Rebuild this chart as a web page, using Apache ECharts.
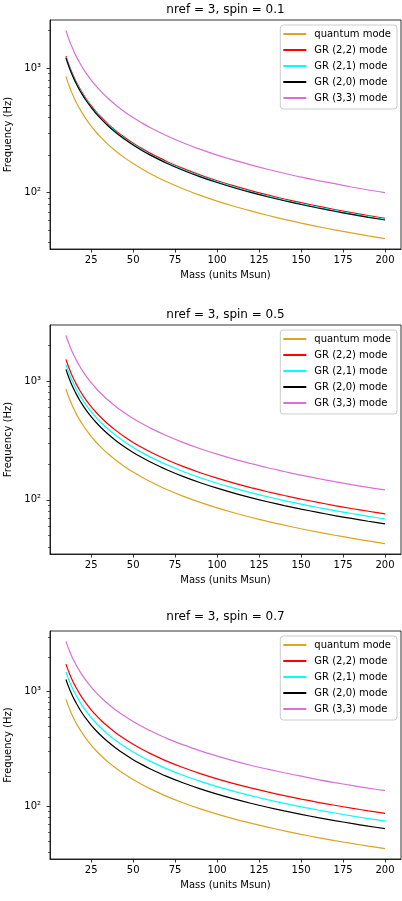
<!DOCTYPE html>
<html>
<head>
<meta charset="utf-8">
<script src="https://cdn.jsdelivr.net/npm/echarts@6/dist/echarts.min.js"></script>
<style>
html,body{margin:0;padding:0;background:#fff;}
#chart{width:402px;height:901px;}
</style>
</head>
<body>
<div id="chart"></div>
<script>
// ---- data ----
const masses = [10,11,12,13,14,15,16,18,20,22,25,28,31,35,40,45,50,55,60,70,80,90,100,110,120,130,140,150,160,170,180,190,200];

const panelTitles = ['nref = 3, spin = 0.1', 'nref = 3, spin = 0.5', 'nref = 3, spin = 0.7'];
const seriesNames = ['quantum mode', 'GR (2,2) mode', 'GR (2,1) mode', 'GR (2,0) mode', 'GR (3,3) mode'];

const quantumMode = [855,777,712,658,611,570,534,475,428,389,342,305,276,244,214,190,171,155.5,142.5,122.1,106.9,95.0,85.5,77.7,71.3,65.8,61.1,57.0,53.4,50.3,47.5,45.0,42.8];

// spin = 0.1
const s01_gr22 = [1245,1132,1038,958,889,830,778,692,623,566,498,445,402,356,311,277,249,226.4,207.5,177.9,155.6,138.3,124.5,113.2,103.8,95.8,88.9,83.0,77.8,73.2,69.2,65.5,62.3];
const s01_gr21 = [1220,1109,1017,938,871,813,763,678,610,555,488,436,394,349,305,271,244,221.8,203.3,174.3,152.5,135.6,122,110.9,101.7,93.8,87.1,81.3,76.3,71.8,67.8,64.2,61.0];
const s01_gr20 = [1205,1095,1004,927,861,803,753,669,603,548,482,430,389,344,301,268,241,219.1,200.8,172.1,150.6,133.9,120.5,109.5,100.4,92.7,86.1,80.3,75.3,70.9,66.9,63.4,60.3];
const s01_gr33 = [2000,1818,1667,1538,1429,1333,1250,1111,1000,909,800,714,645,571,500,444,400,364,333,286,250,222,200,182,167,154,143,133,125,118,111,105,100];

// spin = 0.5
const s05_gr22 = [1520,1382,1267,1169,1086,1013,950,844,760,691,608,543,490,434,380,338,304,276.4,253.3,217.1,190,168.9,152,138.2,126.7,116.9,108.6,101.3,95.0,89.4,84.4,80.0,76.0];
const s05_gr21 = [1378,1253,1148,1060,984,919,861,766,689,626,551,492,445,394,345,306,276,250.5,229.7,196.9,172.3,153.1,137.8,125.3,114.8,106.0,98.4,91.9,86.1,81.1,76.6,72.5,68.9];
const s05_gr20 = [1252,1138,1043,963,894,835,783,696,626,569,501,447,404,358,313,278,250,227.6,208.7,178.9,156.5,139.1,125.2,113.8,104.3,96.3,89.4,83.5,78.3,73.6,69.6,65.9,62.6];
const s05_gr33 = [2420,2200,2017,1862,1729,1613,1513,1344,1210,1100,968,864,781,691,605,538,484,440,403,346,303,269,242,220,202,186,173,161,151,142,134,127,121];

// spin = 0.7
const s07_gr22 = [1735,1577,1446,1335,1239,1157,1084,964,868,789,694,620,560,496,434,386,347,315.5,289.2,247.9,216.9,192.8,173.5,157.7,144.6,133.5,123.9,115.7,108.4,102.1,96.4,91.3,86.8];
const s07_gr21 = [1485,1350,1238,1142,1061,990,928,825,743,675,594,530,479,424,371,330,297,270,247.5,212.1,185.6,165,148.5,135,123.8,114.2,106.1,99.0,92.8,87.4,82.5,78.2,74.3];
const s07_gr20 = [1276,1160,1063,982,911,851,798,709,638,580,510,456,412,365,319,284,255,232,212.7,182.3,159.5,141.8,127.6,116,106.3,98.2,91.1,85.1,79.8,75.1,70.9,67.2,63.8];
const s07_gr33 = [2740,2491,2283,2108,1957,1827,1713,1522,1370,1245,1096,979,884,783,685,609,548,498,457,391,343,304,274,249,228,211,196,183,171,161,152,144,137];

const xTicks = [25,50,75,100,125,150,175,200];
const yMajorTicks = [100,1000];
const yMinorTicks = [40,50,60,70,80,90,200,300,400,500,600,700,800,900,2000,3000];
const yRanges = [[35.3,2424],[34.95,2960],[34.73,3374]];
const xRange = [0.5,209.5];

const panelData = [
  [quantumMode, s01_gr22, s01_gr21, s01_gr20, s01_gr33],
  [quantumMode, s05_gr22, s05_gr21, s05_gr20, s05_gr33],
  [quantumMode, s07_gr22, s07_gr21, s07_gr20, s07_gr33]
];

// ---- styling ----
const colors = ['#DAA520', '#FF0000', '#00FFFF', '#000000', '#DA70D6'];
const FONT = 'DejaVu Sans';
const gridTops = [20, 325, 631];
const gridHeights = [229, 229, 228];
const titleTops = [4, 309, 611];
const GL = 50, GW = 351;

const option = {
  animation: false,
  backgroundColor: '#fff',
  textStyle: { fontFamily: FONT },
  title: [], grid: [], xAxis: [], yAxis: [], series: [], legend: []
};

const supMap = { '0':'\u2070','1':'\u00B9','2':'\u00B2','3':'\u00B3','4':'\u2074' };

panelData.forEach((arrs, p) => {
  const top = gridTops[p];
  option.title.push({
    text: panelTitles[p],
    left: GL + GW / 2, textAlign: 'center',
    top: titleTops[p], padding: 0,
    textStyle: { fontFamily: FONT, fontSize: 12, fontWeight: 'normal', color: '#000' }
  });
  option.grid.push({
    left: GL, width: GW, top: top, height: gridHeights[p],
    containLabel: false, outerBoundsMode: 'none',
    show: true, borderColor: '#000', borderWidth: 0.8, backgroundColor: 'transparent'
  });
  option.xAxis.push({
    type: 'value', gridIndex: p, min: xRange[0], max: xRange[1],
    name: 'Mass (units Msun)', nameLocation: 'middle', nameGap: 21,
    nameTextStyle: { fontFamily: FONT, fontSize: 10, color: '#000' },
    axisLine: { show: true, lineStyle: { color: '#000', width: 0.8 } },
    axisTick: { show: true, length: 3.5, lineStyle: { color: '#000', width: 0.8 }, customValues: xTicks },
    axisLabel: { fontFamily: FONT, fontSize: 10, color: '#000', margin: 6, customValues: xTicks },
    splitLine: { show: false }
  });
  const yr = yRanges[p];
  option.yAxis.push({
    type: 'log', gridIndex: p, min: yr[0], max: yr[1], logBase: 10,
    name: 'Frequency (Hz)', nameLocation: 'middle', nameGap: 30,
    nameTextStyle: { fontFamily: FONT, fontSize: 10, color: '#000' },
    axisLine: { show: true, lineStyle: { color: '#000', width: 0.8 } },
    axisTick: { show: true, length: 3.5, lineStyle: { color: '#000', width: 0.8 }, customValues: yMajorTicks },
    axisLabel: {
      fontFamily: FONT, fontSize: 10, color: '#000', margin: 9, customValues: yMajorTicks,
      formatter: v => '10' + supMap[String(Math.round(Math.log10(v)))]
    },
    splitLine: { show: false }
  });
  option.yAxis.push({
    type: 'log', gridIndex: p, min: yr[0], max: yr[1], logBase: 10, position: 'left',
    axisLine: { show: false },
    axisTick: { show: true, length: 2, lineStyle: { color: '#000', width: 0.6 },
      customValues: yMinorTicks.filter(v => v > yr[0] && v < yr[1]) },
    axisLabel: { show: false },
    splitLine: { show: false }
  });
  arrs.forEach((vals, s) => {
    option.series.push({
      type: 'line', name: seriesNames[s], xAxisIndex: p, yAxisIndex: p * 2,
      data: masses.map((m, i) => [m, vals[i]]),
      showSymbol: false, symbol: 'none', smooth: 0.3,
      lineStyle: { color: colors[s], width: 1.2 },
      itemStyle: { color: colors[s] },
      z: 2 + s
    });
  });
  option.legend.push({
    data: seriesNames.map((n, s) => ({ name: n, itemStyle: { color: colors[s] } })),
    orient: 'vertical', right: 5, top: top + 5,
    icon: 'rect', itemWidth: 23, itemHeight: 2, itemGap: 4,
    padding: [3, 6, 5, 3],
    backgroundColor: 'rgba(255,255,255,0.8)', borderColor: '#cccccc', borderWidth: 1, borderRadius: 3,
    textStyle: { fontFamily: FONT, fontSize: 10, color: '#000', lineHeight: 12, padding: [0, 0, 0, 3] },
    selectedMode: false, z: 10
  });
});

const chart = echarts.init(document.getElementById('chart'), null, { renderer: 'canvas' });
chart.setOption(option);
</script>
</body>
</html>
